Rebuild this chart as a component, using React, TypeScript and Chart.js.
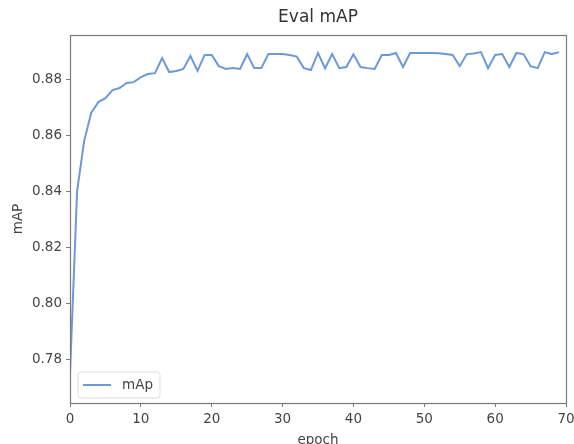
import React, { useEffect, useRef } from "react";
import { Chart, registerables } from "chart.js";

Chart.register(...registerables);

const chartTitle = "Eval mAP";
const xTitle = "epoch";
const yTitle = "mAP";
const seriesLabel = "mAp";

const epochs = [
  0, 1, 2, 3, 4, 5, 6, 7, 8, 9,
  10, 11, 12, 13, 14, 15, 16, 17, 18, 19,
  20, 21, 22, 23, 24, 25, 26, 27, 28, 29,
  30, 31, 32, 33, 34, 35, 36, 37, 38, 39,
  40, 41, 42, 43, 44, 45, 46, 47, 48, 49,
  50, 51, 52, 53, 54, 55, 56, 57, 58, 59,
  60, 61, 62, 63, 64, 65, 66, 67, 68, 69,
];

const mapValues = [
  0.775, 0.840, 0.858, 0.868, 0.8718, 0.8732, 0.8761, 0.8768, 0.8786, 0.8789,
  0.8807, 0.8818, 0.8821, 0.8875, 0.8825, 0.8829, 0.8836, 0.8882, 0.8829, 0.8886,
  0.8886, 0.8846, 0.8836, 0.8839, 0.8836, 0.8889, 0.8839, 0.8839, 0.8889, 0.8889,
  0.8889, 0.8886, 0.8880, 0.8839, 0.8832, 0.8893, 0.8839, 0.8889, 0.8839, 0.8843,
  0.8888, 0.8843, 0.8839, 0.8836, 0.8886, 0.8886, 0.8893, 0.8843, 0.8893, 0.8893,
  0.8893, 0.8893, 0.8892, 0.8889, 0.8886, 0.8846, 0.8889, 0.8891, 0.8896, 0.8839,
  0.8886, 0.8889, 0.8843, 0.8893, 0.8889, 0.8846, 0.8839, 0.8896, 0.8889, 0.8896,
];

const xTicks = [0, 10, 20, 30, 40, 50, 60, 70];
const yTicks = [0.78, 0.80, 0.82, 0.84, 0.86, 0.88];

const FONT = "'DejaVu Sans', Verdana, sans-serif";
const LINE_COLOR = "#6b9ad8";
const SPINE = "#7a7a7a";
const TEXT = "#444";

const decorPlugin = {
  id: "decor",
  afterDatasetsDraw(chart: any) {
    const { ctx, chartArea } = chart;
    const { left, right, top, bottom } = chartArea;
    ctx.save();
    // frame
    ctx.strokeStyle = SPINE;
    ctx.lineWidth = 1.2;
    ctx.strokeRect(Math.round(left) + 0.5, Math.round(top) + 0.5, Math.round(right - left), Math.round(bottom - top));

    // legend
    const lx = left + 8;
    const ly = bottom - 31;
    const lw = 82;
    const lh = 26;
    const r = 3;
    ctx.beginPath();
    ctx.moveTo(lx + r, ly);
    ctx.lineTo(lx + lw - r, ly);
    ctx.quadraticCurveTo(lx + lw, ly, lx + lw, ly + r);
    ctx.lineTo(lx + lw, ly + lh - r);
    ctx.quadraticCurveTo(lx + lw, ly + lh, lx + lw - r, ly + lh);
    ctx.lineTo(lx + r, ly + lh);
    ctx.quadraticCurveTo(lx, ly + lh, lx, ly + lh - r);
    ctx.lineTo(lx, ly + r);
    ctx.quadraticCurveTo(lx, ly, lx + r, ly);
    ctx.closePath();
    ctx.fillStyle = "rgba(255,255,255,0.85)";
    ctx.fill();
    ctx.strokeStyle = "#dddddd";
    ctx.lineWidth = 1;
    ctx.stroke();
    const cy = ly + lh / 2;
    ctx.strokeStyle = LINE_COLOR;
    ctx.lineWidth = 2;
    ctx.beginPath();
    ctx.moveTo(lx + 5, cy);
    ctx.lineTo(lx + 33, cy);
    ctx.stroke();
    ctx.fillStyle = TEXT;
    ctx.font = `13.5px ${FONT}`;
    ctx.textAlign = "left";
    ctx.textBaseline = "middle";
    ctx.fillText(chart.data.datasets[0].label, lx + 44, cy);

    // titles
    const cx = (left + right) / 2;
    ctx.fillStyle = "#333";
    ctx.font = `17px ${FONT}`;
    ctx.textAlign = "center";
    ctx.textBaseline = "middle";
    ctx.fillText(chartTitle, cx, 18);

    ctx.fillStyle = TEXT;
    ctx.font = `13.5px ${FONT}`;
    ctx.fillText(xTitle, cx, 440);

    ctx.translate(18, (top + bottom) / 2);
    ctx.rotate(-Math.PI / 2);
    ctx.fillText(yTitle, 0, 0);
    ctx.restore();
  },
};

export default function App() {
  const ref = useRef<HTMLCanvasElement | null>(null);

  useEffect(() => {
    document.body.style.margin = "0";
    if (!ref.current) return;
    const chart = new Chart(ref.current, {
      type: "line",
      data: {
        datasets: [
          {
            label: seriesLabel,
            data: epochs.map((e, i) => ({ x: e, y: mapValues[i] })),
            borderColor: LINE_COLOR,
            borderWidth: 2,
            pointRadius: 0,
            tension: 0,
            fill: false,
          },
        ],
      },
      options: {
        responsive: false,
        animation: false,
        layout: { padding: { left: 0, right: 0, top: 35, bottom: 0 } },
        plugins: {
          legend: { display: false },
          title: { display: false },
          tooltip: { enabled: false },
        },
        scales: {
          x: {
            type: "linear",
            min: 0,
            max: 70,
            afterBuildTicks: (scale: any) => {
              scale.ticks = xTicks.map((v) => ({ value: v }));
            },
            afterFit: (scale: any) => {
              scale.height = 41;
              scale.paddingRight = 8;
            },
            grid: {
              drawOnChartArea: false,
              drawTicks: true,
              tickLength: 4,
              color: SPINE,
            },
            border: { display: false },
            ticks: {
              color: TEXT,
              font: { family: FONT, size: 13.5 },
              padding: 4,
              maxRotation: 0,
              autoSkip: false,
            },
          },
          y: {
            type: "linear",
            min: 0.7646,
            max: 0.8957,
            afterBuildTicks: (scale: any) => {
              scale.ticks = yTicks.map((v) => ({ value: v }));
            },
            afterFit: (scale: any) => {
              scale.width = 70;
            },
            grid: {
              drawOnChartArea: false,
              drawTicks: true,
              tickLength: 4,
              color: SPINE,
            },
            border: { display: false },
            ticks: {
              color: TEXT,
              font: { family: FONT, size: 13.5 },
              padding: 4,
              autoSkip: false,
              callback: (v: any) => Number(v).toFixed(2),
            },
          },
        },
      },
      plugins: [decorPlugin],
    });
    return () => chart.destroy();
  }, []);

  return (
    <div style={{ width: 574, height: 444, background: "#fff" }}>
      <canvas ref={ref} width={574} height={444} style={{ display: "block" }} />
    </div>
  );
}
